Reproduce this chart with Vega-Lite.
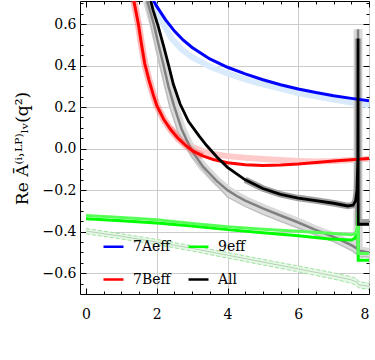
{
"$schema": "https://vega.github.io/schema/vega-lite/v6.json",
"width": 289, "height": 293,
"autosize": "none",
"padding": {"left": 80, "top": 1, "right": 6, "bottom": 66},
"config": {
  "view": {"stroke": "black", "strokeWidth": 1},
  "font": "DejaVu Serif",
  "axis": {"labelFont": "DejaVu Serif", "labelFontSize": 14, "labelColor": "black", "tickColor": "black", "tickWidth": 1, "gridColor": "#cccccc", "gridWidth": 1, "domain": false, "titleFont": "DejaVu Serif", "titleFontWeight": "normal", "titleFontSize": 16, "titleColor": "black"},
  "legend": {"orient": "none", "legendX": 22, "legendY": 234, "columns": 2, "symbolType": "stroke", "symbolSize": 400, "symbolStrokeWidth": 2.5, "labelFont": "DejaVu Serif", "labelFontSize": 14, "labelColor": "black", "labelOffset": 8, "columnPadding": 12, "rowPadding": 14, "padding": 0}
},
"datasets": {
 "main": [
  {"s":"7Aeff","x":1.85,"y":0.73},{"s":"7Aeff","x":2.0,"y":0.685},{"s":"7Aeff","x":2.25,"y":0.62},{"s":"7Aeff","x":2.5,"y":0.566},{"s":"7Aeff","x":2.75,"y":0.522},{"s":"7Aeff","x":3.0,"y":0.487},{"s":"7Aeff","x":3.5,"y":0.432},{"s":"7Aeff","x":4.0,"y":0.392},{"s":"7Aeff","x":4.5,"y":0.36},{"s":"7Aeff","x":5.0,"y":0.332},{"s":"7Aeff","x":5.5,"y":0.308},{"s":"7Aeff","x":6.0,"y":0.287},{"s":"7Aeff","x":6.5,"y":0.27},{"s":"7Aeff","x":7.0,"y":0.255},{"s":"7Aeff","x":7.5,"y":0.242},{"s":"7Aeff","x":8.0,"y":0.23},
  {"s":"lb","x":1.87,"y":0.73},{"s":"lb","x":2.0,"y":0.665},{"s":"lb","x":2.2,"y":0.595},{"s":"lb","x":2.42,"y":0.53},{"s":"lb","x":2.7,"y":0.478},{"s":"lb","x":3.0,"y":0.44},{"s":"lb","x":3.5,"y":0.395},{"s":"lb","x":4.0,"y":0.362},{"s":"lb","x":4.5,"y":0.334},{"s":"lb","x":5.0,"y":0.31},{"s":"lb","x":5.5,"y":0.289},{"s":"lb","x":6.0,"y":0.268},{"s":"lb","x":6.5,"y":0.252},{"s":"lb","x":7.0,"y":0.237},{"s":"lb","x":7.5,"y":0.222},{"s":"lb","x":8.0,"y":0.207},
  {"s":"7Beff","x":1.33,"y":0.73},{"s":"7Beff","x":1.40,"y":0.67},{"s":"7Beff","x":1.48,"y":0.60},{"s":"7Beff","x":1.57,"y":0.50},{"s":"7Beff","x":1.66,"y":0.41},{"s":"7Beff","x":1.78,"y":0.33},{"s":"7Beff","x":1.9,"y":0.26},{"s":"7Beff","x":2.0,"y":0.208},{"s":"7Beff","x":2.2,"y":0.14},{"s":"7Beff","x":2.4,"y":0.09},{"s":"7Beff","x":2.6,"y":0.05},{"s":"7Beff","x":2.8,"y":0.018},{"s":"7Beff","x":3.03,"y":-0.012},{"s":"7Beff","x":3.3,"y":-0.035},{"s":"7Beff","x":3.6,"y":-0.052},{"s":"7Beff","x":4.0,"y":-0.068},{"s":"7Beff","x":4.5,"y":-0.078},{"s":"7Beff","x":5.0,"y":-0.081},{"s":"7Beff","x":5.5,"y":-0.079},{"s":"7Beff","x":6.0,"y":-0.074},{"s":"7Beff","x":6.5,"y":-0.067},{"s":"7Beff","x":7.0,"y":-0.06},{"s":"7Beff","x":7.5,"y":-0.054},{"s":"7Beff","x":8.0,"y":-0.048},
  {"s":"p","x":2.4,"y":0.1},{"s":"p","x":2.6,"y":0.06},{"s":"p","x":2.8,"y":0.03},{"s":"p","x":3.0,"y":0.01},{"s":"p","x":3.3,"y":-0.012},{"s":"p","x":3.6,"y":-0.026},{"s":"p","x":4.0,"y":-0.036},{"s":"p","x":4.5,"y":-0.044},{"s":"p","x":5.0,"y":-0.05},{"s":"p","x":5.5,"y":-0.055},{"s":"p","x":6.0,"y":-0.059},{"s":"p","x":6.5,"y":-0.062},{"s":"p","x":7.0,"y":-0.06},{"s":"p","x":7.5,"y":-0.055},{"s":"p","x":8.0,"y":-0.049},
  {"s":"All","x":1.80,"y":0.73},{"s":"All","x":1.9,"y":0.665},{"s":"All","x":2.04,"y":0.59},{"s":"All","x":2.2,"y":0.49},{"s":"All","x":2.33,"y":0.405},{"s":"All","x":2.47,"y":0.31},{"s":"All","x":2.66,"y":0.215},{"s":"All","x":2.9,"y":0.13},{"s":"All","x":3.2,"y":0.06},{"s":"All","x":3.41,"y":0.015},{"s":"All","x":3.7,"y":-0.04},{"s":"All","x":4.0,"y":-0.09},{"s":"All","x":4.5,"y":-0.15},{"s":"All","x":5.0,"y":-0.192},{"s":"All","x":5.5,"y":-0.22},{"s":"All","x":6.0,"y":-0.238},{"s":"All","x":6.5,"y":-0.25},{"s":"All","x":7.0,"y":-0.263},{"s":"All","x":7.4,"y":-0.276},{"s":"All","x":7.55,"y":-0.272},{"s":"All","x":7.62,"y":-0.252},{"s":"All","x":7.66,"y":-0.2},{"s":"All","x":7.685,"y":-0.05},{"s":"All","x":7.69,"y":0.53},{"s":"All","x":7.695,"y":-0.364},{"s":"All","x":8.0,"y":-0.364},
  {"s":"kb","x":4.5,"y":-0.15},{"s":"kb","x":5.0,"y":-0.192},{"s":"kb","x":5.5,"y":-0.22},{"s":"kb","x":6.0,"y":-0.238},{"s":"kb","x":6.5,"y":-0.25},{"s":"kb","x":7.0,"y":-0.263},{"s":"kb","x":7.4,"y":-0.276},{"s":"kb","x":7.55,"y":-0.272},{"s":"kb","x":7.62,"y":-0.252},{"s":"kb","x":7.66,"y":-0.2},{"s":"kb","x":7.685,"y":-0.05},{"s":"kb","x":7.69,"y":0.53},{"s":"kb","x":7.695,"y":-0.355},{"s":"kb","x":8.0,"y":-0.355},
  {"s":"g","x":1.70,"y":0.73},{"s":"g","x":1.8,"y":0.67},{"s":"g","x":1.93,"y":0.59},{"s":"g","x":2.05,"y":0.50},{"s":"g","x":2.18,"y":0.41},{"s":"g","x":2.33,"y":0.30},{"s":"g","x":2.49,"y":0.205},{"s":"g","x":2.7,"y":0.095},{"s":"g","x":2.85,"y":0.04},{"s":"g","x":3.03,"y":-0.02},{"s":"g","x":3.3,"y":-0.085},{"s":"g","x":3.69,"y":-0.155},{"s":"g","x":4.0,"y":-0.2},{"s":"g","x":4.26,"y":-0.228},{"s":"g","x":4.5,"y":-0.25},{"s":"g","x":5.0,"y":-0.288},{"s":"g","x":5.5,"y":-0.322},{"s":"g","x":5.95,"y":-0.352},{"s":"g","x":6.47,"y":-0.39},{"s":"g","x":6.89,"y":-0.418},{"s":"g","x":7.2,"y":-0.44},{"s":"g","x":7.5,"y":-0.465},{"s":"g","x":7.65,"y":-0.48},{"s":"g","x":7.685,"y":-0.485},{"s":"g","x":7.69,"y":0.575},{"s":"g","x":7.695,"y":-0.49},{"s":"g","x":8.0,"y":-0.5},
  {"s":"g2","x":1.66,"y":0.73},{"s":"g2","x":1.75,"y":0.66},{"s":"g2","x":1.88,"y":0.56},{"s":"g2","x":2.09,"y":0.40},{"s":"g2","x":2.37,"y":0.20},{"s":"g2","x":2.6,"y":0.08},{"s":"g2","x":2.8,"y":0.02},{"s":"g2","x":3.0,"y":-0.04},{"s":"g2","x":3.5,"y":-0.14},{"s":"g2","x":4.0,"y":-0.232},{"s":"g2","x":4.5,"y":-0.278},{"s":"g2","x":5.0,"y":-0.316},{"s":"g2","x":5.5,"y":-0.35},{"s":"g2","x":6.0,"y":-0.382},{"s":"g2","x":6.5,"y":-0.416},{"s":"g2","x":7.0,"y":-0.448},{"s":"g2","x":7.5,"y":-0.49},{"s":"g2","x":7.685,"y":-0.51},{"s":"g2","x":7.695,"y":-0.52},{"s":"g2","x":8.0,"y":-0.522},
  {"s":"9eff","x":0,"y":-0.338},{"s":"9eff","x":1,"y":-0.347},{"s":"9eff","x":2,"y":-0.358},{"s":"9eff","x":3,"y":-0.373},{"s":"9eff","x":4,"y":-0.39},{"s":"9eff","x":5,"y":-0.405},{"s":"9eff","x":6,"y":-0.42},{"s":"9eff","x":6.89,"y":-0.435},{"s":"9eff","x":7.5,"y":-0.44},{"s":"9eff","x":7.6,"y":-0.432},{"s":"9eff","x":7.65,"y":-0.415},{"s":"9eff","x":7.68,"y":-0.385},{"s":"9eff","x":7.69,"y":-0.33},{"s":"9eff","x":7.695,"y":-0.538},{"s":"9eff","x":8.0,"y":-0.538},
  {"s":"gr2","x":0,"y":-0.322},{"s":"gr2","x":1,"y":-0.332},{"s":"gr2","x":2,"y":-0.343},{"s":"gr2","x":3,"y":-0.36},{"s":"gr2","x":4,"y":-0.376},{"s":"gr2","x":5,"y":-0.388},{"s":"gr2","x":6,"y":-0.398},{"s":"gr2","x":6.89,"y":-0.408},{"s":"gr2","x":7.5,"y":-0.415},{"s":"gr2","x":7.6,"y":-0.41},{"s":"gr2","x":7.65,"y":-0.395},{"s":"gr2","x":7.68,"y":-0.36},{"s":"gr2","x":7.69,"y":-0.3},{"s":"gr2","x":7.695,"y":-0.505},{"s":"gr2","x":8.0,"y":-0.505},
  {"s":"lgb","x":0,"y":-0.385,"y2":-0.41,"m":-0.397},{"s":"lgb","x":1,"y":-0.41,"y2":-0.435,"m":-0.422},{"s":"lgb","x":2,"y":-0.437,"y2":-0.462,"m":-0.45},{"s":"lgb","x":3,"y":-0.468,"y2":-0.493,"m":-0.48},{"s":"lgb","x":4,"y":-0.5,"y2":-0.527,"m":-0.513},{"s":"lgb","x":5,"y":-0.533,"y2":-0.56,"m":-0.546},{"s":"lgb","x":6,"y":-0.565,"y2":-0.593,"m":-0.579},{"s":"lgb","x":7,"y":-0.598,"y2":-0.628,"m":-0.613},{"s":"lgb","x":7.5,"y":-0.617,"y2":-0.648,"m":-0.632},{"s":"lgb","x":7.65,"y":-0.625,"y2":-0.66,"m":-0.642},{"s":"lgb","x":7.7,"y":-0.64,"y2":-0.67,"m":-0.655},{"s":"lgb","x":8.0,"y":-0.648,"y2":-0.678,"m":-0.663}
 ]
},
"data": {"name": "main"},
"layer": [
 {
  "encoding": {
   "x": {"field": "x", "type": "quantitative", "scale": {"domain": [-0.17, 8.0], "nice": false, "zero": false},
     "axis": {"orient": "bottom", "title": null, "values": [0,0.5,1,1.5,2,2.5,3,3.5,4,4.5,5,5.5,6,6.5,7,7.5,8], "format": ".0f",
       "labelExpr": "datum.value % 2 === 0 ? datum.label : ''", "labelPadding": 19,
       "tickSize": {"condition": {"test": "datum.value % 2 === 0", "value": -6}, "value": -3},
       "gridOpacity": {"condition": {"test": "datum.value % 2 === 0 && datum.value > 0", "value": 1}, "value": 0}}},
   "y": {"field": "y", "type": "quantitative", "scale": {"domain": [-0.7, 0.711], "nice": false, "zero": false},
     "axis": {"orient": "left", "title": "Re Ā⁽ⁱ˒ᴸᴾ⁾ₗᵥ(q²)", "values": [-0.65,-0.6,-0.55,-0.5,-0.45,-0.4,-0.35,-0.3,-0.25,-0.2,-0.15,-0.1,-0.05,0,0.05,0.1,0.15,0.2,0.25,0.3,0.35,0.4,0.45,0.5,0.55,0.6,0.65,0.7], "format": ".1f",
       "labelExpr": "abs(datum.value*5 - round(datum.value*5)) < 0.001 ? datum.label : ''", "labelPadding": 10,
       "tickSize": {"condition": {"test": "abs(datum.value*5 - round(datum.value*5)) < 0.001", "value": -6}, "value": -3},
       "gridOpacity": {"condition": {"test": "abs(datum.value*5 - round(datum.value*5)) < 0.001", "value": 1}, "value": 0},
       "titleX": -58, "titleY": 147, "titleAngle": -90, "titleBaseline": "middle", "titleAlign": "center", "titleFontSize": 17}}
  },
  "layer": [
   {"transform": [{"filter": "datum.s === 'lgb'"}], "mark": {"type": "area", "color": "#e6f8e6", "clip": true}, "encoding": {"y2": {"field": "y2"}}},
   {"transform": [{"filter": "datum.s === 'lgb'"}], "mark": {"type": "line", "color": "#9fe09f", "strokeWidth": 1, "strokeDash": [4, 2], "clip": true}, "encoding": {}},
   {"transform": [{"filter": "datum.s === 'lgb'"}], "mark": {"type": "line", "color": "#9fe09f", "strokeWidth": 1, "strokeDash": [4, 2], "clip": true}, "encoding": {"y": {"field": "y2", "type": "quantitative"}}},
   {"transform": [{"filter": "datum.s === 'lgb'"}], "mark": {"type": "line", "color": "#a8c8a8", "strokeWidth": 0.8, "clip": true}, "encoding": {"y": {"field": "m", "type": "quantitative"}}},
   {"transform": [{"filter": "datum.s === 'lb'"}], "mark": {"type": "line", "color": "#d8eafb", "strokeWidth": 6, "clip": true}, "encoding": {}},
   {"transform": [{"filter": "datum.s === 'p'"}], "mark": {"type": "line", "color": "#ffcaca", "strokeWidth": 6, "clip": true}, "encoding": {}},
   {"transform": [{"filter": "datum.s === 'g'"}], "mark": {"type": "line", "color": "#dadada", "strokeWidth": 9, "clip": true}, "encoding": {}},
   {"transform": [{"filter": "datum.s === 'g2'"}], "mark": {"type": "line", "color": "#bdbdbd", "strokeWidth": 1.5, "clip": true}, "encoding": {}},
   {"transform": [{"filter": "datum.s === 'g'"}], "mark": {"type": "line", "color": "#808080", "strokeWidth": 2.5, "clip": true}, "encoding": {}},
   {"transform": [{"filter": "datum.s === 'kb'"}], "mark": {"type": "line", "color": "#a0a0a0", "strokeWidth": 6.5, "clip": true}, "encoding": {}},
   {"transform": [{"filter": "datum.s === '7Beff' && datum.x < 3.6"}], "mark": {"type": "line", "color": "#ff5050", "opacity": 0.4, "strokeWidth": 7, "clip": true}, "encoding": {}},
   {"transform": [{"filter": "datum.s === '7Beff' || datum.s === '7Aeff' || datum.s === '9eff'"}], "mark": {"type": "line", "strokeWidth": 3, "clip": true},
    "encoding": {"color": {"field": "s", "type": "nominal", "scale": {"domain": ["7Aeff", "9eff", "7Beff", "All"], "range": ["#0000ff", "#00ff00", "#ff0000", "#000000"]},
      "legend": {"title": null, "values": ["7Aeff", "7Beff", "9eff", "All"], "labelFont": "DejaVu Serif", "labelFontSize": 14}}}},
   {"transform": [{"filter": "datum.s === 'gr2'"}], "mark": {"type": "line", "color": "#55ff55", "strokeWidth": 3, "clip": true}, "encoding": {}},
   {"transform": [{"filter": "datum.s === 'All'"}], "mark": {"type": "line", "strokeWidth": 2.8, "clip": true},
    "encoding": {"color": {"field": "s", "type": "nominal"}}}
  ]
 },
 {
  "mark": {"type": "point", "opacity": 0},
  "encoding": {
   "x": {"field": "x", "type": "quantitative", "axis": {"orient": "top", "title": null, "labels": false, "grid": false, "values": [0,0.5,1,1.5,2,2.5,3,3.5,4,4.5,5,5.5,6,6.5,7,7.5,8],
      "tickSize": {"condition": {"test": "datum.value % 2 === 0", "value": -6}, "value": -3}}},
   "y": {"field": "y", "type": "quantitative", "axis": {"orient": "right", "title": null, "labels": false, "grid": false, "values": [-0.65,-0.6,-0.55,-0.5,-0.45,-0.4,-0.35,-0.3,-0.25,-0.2,-0.15,-0.1,-0.05,0,0.05,0.1,0.15,0.2,0.25,0.3,0.35,0.4,0.45,0.5,0.55,0.6,0.65,0.7],
      "tickSize": {"condition": {"test": "abs(datum.value*5 - round(datum.value*5)) < 0.001", "value": -6}, "value": -3}}}
  }
 }
],
"resolve": {"axis": {"x": "independent", "y": "independent"}}
}
